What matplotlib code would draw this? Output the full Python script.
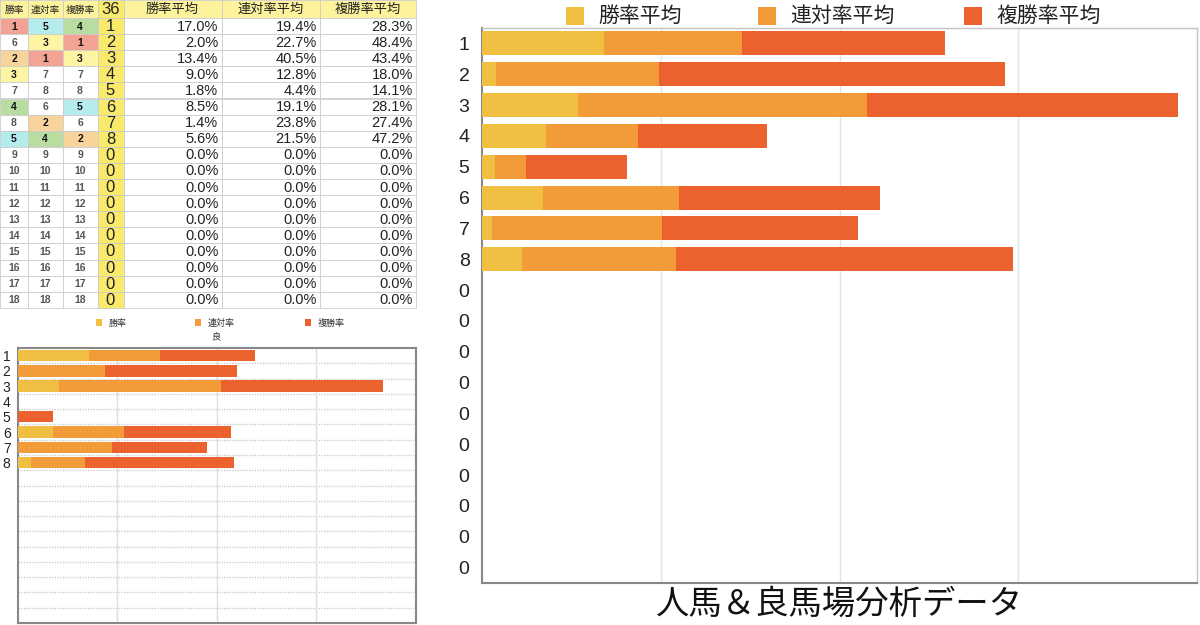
import matplotlib
matplotlib.use("Agg")
import matplotlib.pyplot as plt
from matplotlib.patches import Rectangle

plt.rcParams["font.family"] = ["Liberation Sans", "Noto Sans CJK JP", "DejaVu Sans"]

W, H = 1200, 625

# Table data
rank_win = [1, 6, 2, 3, 7, 4, 8, 5, 9, 10, 11, 12, 13, 14, 15, 16, 17, 18]
rank_ren = [5, 3, 1, 7, 8, 6, 2, 4, 9, 10, 11, 12, 13, 14, 15, 16, 17, 18]
rank_fuku = [4, 1, 3, 7, 8, 5, 6, 2, 9, 10, 11, 12, 13, 14, 15, 16, 17, 18]
horse_no = [1, 2, 3, 4, 5, 6, 7, 8, 0, 0, 0, 0, 0, 0, 0, 0, 0, 0]
win_avg = [17.0, 2.0, 13.4, 9.0, 1.8, 8.5, 1.4, 5.6] + [0.0] * 10
ren_avg = [19.4, 22.7, 40.5, 12.8, 4.4, 19.1, 23.8, 21.5] + [0.0] * 10
fuku_avg = [28.3, 48.4, 43.4, 18.0, 14.1, 28.1, 27.4, 47.2] + [0.0] * 10
table_headers = ["勝率", "連対率", "複勝率", "36", "勝率平均", "連対率平均", "複勝率平均"]

# Small chart (良) data, segments
small_labels = ["1", "2", "3", "4", "5", "6", "7", "8"] + [""] * 10
good_win = [18.0, 0, 10.3, 0, 0, 9.0, 0, 3.5] + [0] * 10
good_ren = [17.8, 22.0, 40.7, 0, 0, 17.8, 23.8, 13.5] + [0] * 10
good_fuku = [23.7, 33.1, 40.8, 0, 8.9, 26.8, 23.8, 37.4] + [0] * 10

C_WIN, C_REN, C_FUKU = "#F0BE41", "#F29B38", "#EC622E"
RANK_COLORS = {1: "#F2A393", 2: "#F8D49C", 3: "#FDF5A4", 4: "#B9DDA0", 5: "#B4EBEB"}
HEAD_BG = "#FCF39C"
NO_BG = "#FAEA6C"

fig = plt.figure(figsize=(W / 100, H / 100), dpi=100)


def px_axes(l, t, r, b):
    return fig.add_axes([l / W, 1 - b / H, (r - l) / W, (b - t) / H])


# overlay in pixel coordinates (table, legends, titles)
ov = fig.add_axes([0, 0, 1, 1])
ov.set_xlim(0, W)
ov.set_ylim(H, 0)
ov.axis("off")

# ---- table ----
col_edges = [0, 28, 62.5, 97.5, 123.5, 221.5, 320, 416]
head_h, row_h = 18, 16.1
for j, name in enumerate(table_headers):
    x0, x1 = col_edges[j], col_edges[j + 1]
    ov.add_patch(Rectangle((x0, 0), x1 - x0, head_h, fc=NO_BG if j == 3 else HEAD_BG,
                           ec="#cccccc", lw=0.6))
    size = 7 if j < 3 else (12 if j == 3 else 9.5)
    ov.text((x0 + x1) / 2, head_h / 2 + 0.5, name, ha="center", va="center", fontsize=size,
            color="#222222")

for i in range(len(horse_no)):
    y0 = head_h + i * row_h
    yc = y0 + row_h / 2 + 0.5
    for j, val in enumerate([rank_win[i], rank_ren[i], rank_fuku[i]]):
        x0, x1 = col_edges[j], col_edges[j + 1]
        colored = val in RANK_COLORS
        ov.add_patch(Rectangle((x0, y0), x1 - x0, row_h, fc=RANK_COLORS.get(val, "white"),
                               ec="#cccccc", lw=0.6))
        ov.text((x0 + x1) / 2, yc, str(val), ha="center", va="center", fontsize=7.5,
                fontweight="bold", color="#111111" if colored else "#555555")
    x0, x1 = col_edges[3], col_edges[4]
    ov.add_patch(Rectangle((x0, y0), x1 - x0, row_h, fc=NO_BG, ec="#cccccc", lw=0.6))
    ov.text((x0 + x1) / 2, yc, str(horse_no[i]), ha="center", va="center", fontsize=12,
            color="#222222")
    for j, val in zip([4, 5, 6], [win_avg[i], ren_avg[i], fuku_avg[i]]):
        x0, x1 = col_edges[j], col_edges[j + 1]
        ov.add_patch(Rectangle((x0, y0), x1 - x0, row_h, fc="white", ec="#cccccc", lw=0.6))
        ov.text(x1 - 3, yc, f"{val:.1f}%", ha="right", va="center", fontsize=10.5,
                color="#222222")

# ---- small chart legend / title ----
for x, lab, c in [(96, "勝率", C_WIN), (195, "連対率", C_REN), (305, "複勝率", C_FUKU)]:
    ov.add_patch(Rectangle((x, 319), 6, 7, fc=c, ec="none"))
    ov.text(x + 13, 323, lab, ha="left", va="center", fontsize=6.5, color="#333333")
ov.text(216, 337, "良", ha="center", va="center", fontsize=6.5, color="#333333")

# ---- big chart legend / title ----
for x, lab, c in [(566, "勝率平均", C_WIN), (758, "連対率平均", C_REN), (964, "複勝率平均", C_FUKU)]:
    ov.add_patch(Rectangle((x, 7), 18, 18, fc=c, ec="none"))
    ov.text(x + 32, 16, lab, ha="left", va="center", fontsize=15, color="#222222")
ov.text(839, 605, "人馬＆良馬場分析データ", ha="center", va="center", fontsize=24, color="#111111")

# ---- small chart ----
ax2 = px_axes(17.5, 348, 416, 623)
ys = range(len(small_labels))
left = [0] * len(small_labels)
for vals, c in [(good_win, C_WIN), (good_ren, C_REN), (good_fuku, C_FUKU)]:
    ax2.barh(ys, vals, left=left, height=0.75, color=c, zorder=3)
    left = [a + b for a, b in zip(left, vals)]
ax2.set_xlim(0, 100)
ax2.set_ylim(len(small_labels) - 0.5, -0.5)
ax2.set_xticks([25, 50, 75])
ax2.set_xticklabels([])
ax2.set_yticks(list(ys))
ax2.set_yticklabels(small_labels, fontsize=10, color="#222222")
ax2.tick_params(length=0, pad=5)
ax2.grid(axis="x", color="#dddddd", lw=1, zorder=0)
for k in range(len(small_labels) - 1):
    ax2.axhline(k + 0.5, color="#cccccc", lw=1, ls=(0, (1, 1)), zorder=1)
for s in ax2.spines.values():
    s.set_color("#888888")
    s.set_linewidth(1.5)

# ---- big chart ----
big_labels = [str(n) for n in horse_no]
ax = px_axes(482, 28, 1197, 583)
ys = range(len(big_labels))
left = [0] * len(big_labels)
for vals, c in [(win_avg, C_WIN), (ren_avg, C_REN), (fuku_avg, C_FUKU)]:
    ax.barh(ys, vals, left=left, height=0.78, color=c, zorder=3)
    left = [a + b for a, b in zip(left, vals)]
ax.set_xlim(0, 100)
ax.set_ylim(len(big_labels) - 0.5, -0.5)
ax.set_xticks([25, 50, 75])
ax.set_xticklabels([])
ax.set_yticks(list(ys))
ax.set_yticklabels(big_labels, fontsize=14, color="#222222")
ax.tick_params(length=0, pad=9)
ax.grid(axis="x", color="#e4e4e4", lw=1, zorder=0)
for name, s in ax.spines.items():
    if name in ("left", "bottom"):
        s.set_color("#888888")
        s.set_linewidth(1.5)
    else:
        s.set_color("#c4c4c4")
        s.set_linewidth(1)

fig.savefig("out.png", dpi=100)
